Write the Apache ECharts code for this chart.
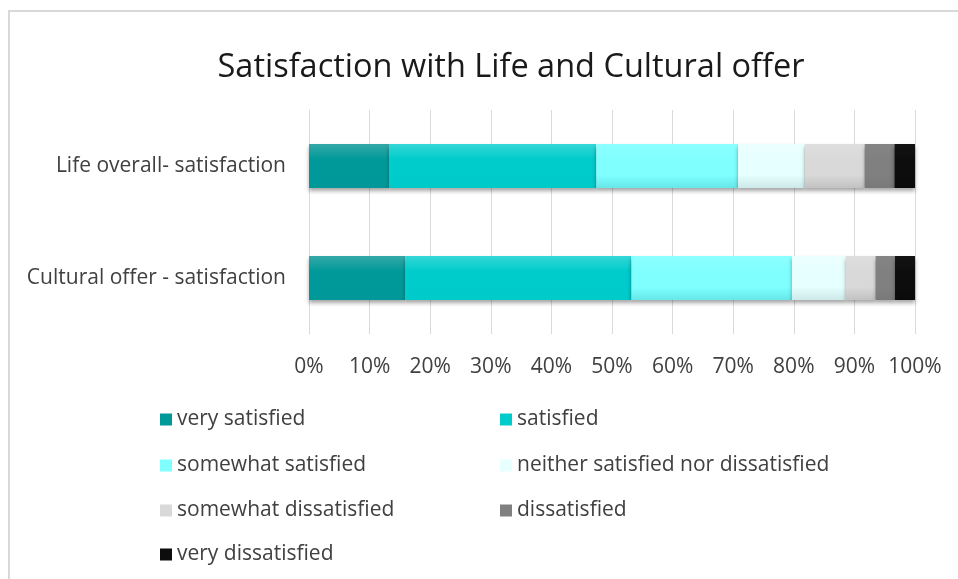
<!DOCTYPE html>
<html>
<head>
<meta charset="utf-8">
<script src="https://cdn.jsdelivr.net/npm/echarts@6/dist/echarts.min.js"></script>
<style>
  html, body { margin: 0; padding: 0; background: #fff; }
  #chart { width: 958px; height: 579px; }
</style>
</head>
<body>
<div id="chart"></div>
<script>
// Survey questions (bottom to top on the category axis)
const categories = ['Cultural offer - satisfaction', 'Life overall- satisfaction'];

// Answer levels and their share of responses (%), same order as categories
const levels = [
  'very satisfied',
  'satisfied',
  'somewhat satisfied',
  'neither satisfied nor dissatisfied',
  'somewhat dissatisfied',
  'dissatisfied',
  'very dissatisfied'
];
const verySatisfied        = [15.9, 13.2];
const satisfied            = [37.3, 34.2];
const somewhatSatisfied    = [26.5, 23.4];
const neither              = [8.9, 11.0];
const somewhatDissatisfied = [4.9, 9.9];
const dissatisfied         = [3.2, 4.9];
const veryDissatisfied     = [3.3, 3.4];

const tickLabels = ['0%', '10%', '20%', '30%', '40%', '50%', '60%', '70%', '80%', '90%', '100%'];

const seriesValues = [verySatisfied, satisfied, somewhatSatisfied, neither,
  somewhatDissatisfied, dissatisfied, veryDissatisfied];

// [top, bottom] shades per level for the soft vertical gradient
const shades = [
  ['#35a8a8', '#009898'],
  ['#35d6d6', '#00caca'],
  ['#8cffff', '#66e8e8'],
  ['#ecffff', '#cde9e9'],
  ['#dedede', '#c2c2c2'],
  ['#858585', '#7a7a7a'],
  ['#141414', '#0a0a0a']
];
const flat = ['#009999', '#00cccc', '#80ffff', '#e6ffff', '#d9d9d9', '#808080', '#0d0d0d'];

const FONT = '"Open Sans"';
const chart = echarts.init(document.getElementById('chart'));

const series = levels.map((name, i) => ({
  name: name,
  type: 'bar',
  stack: 'total',
  barWidth: 44,
  data: seriesValues[i],
  itemStyle: {
    color: {
      type: 'linear', x: 0, y: 0, x2: 0, y2: 1,
      colorStops: [
        { offset: 0, color: shades[i][0] },
        { offset: 0.35, color: flat[i] },
        { offset: 0.7, color: flat[i] },
        { offset: 1, color: shades[i][1] }
      ]
    },
    shadowColor: 'rgba(0,0,0,0.35)',
    shadowBlur: 4,
    shadowOffsetY: 3
  },
  emphasis: { disabled: true }
}));

// One legend block per level, laid out in two columns
const colX = [155, 495];
const rowY = [404, 450, 495, 539];
const legends = levels.map((name, i) => ({
  data: [{ name: name, itemStyle: { color: flat[i] } }],
  left: colX[i % 2],
  top: rowY[Math.floor(i / 2)],
  icon: 'rect',
  itemWidth: 12,
  itemHeight: 12,
  itemGap: 6,
  textStyle: { fontFamily: FONT, fontSize: 21, color: '#404040' },
  selectedMode: false
}));

chart.setOption({
  animation: false,
  title: {
    text: 'Satisfaction with Life and Cultural offer',
    left: 506,
    top: 46,
    textAlign: 'center',
    textStyle: { fontFamily: FONT, fontSize: 32.5, fontWeight: 'normal', color: '#1a1a1a' }
  },
  graphic: [{
    type: 'rect',
    shape: { x: 9, y: 11, width: 1200, height: 1000 },
    style: { fill: 'none', stroke: '#d9d9d9', lineWidth: 2 },
    silent: true
  }],
  legend: legends,
  grid: { left: 309, right: 43, top: 110, bottom: 245, containLabel: false },
  xAxis: {
    type: 'value',
    min: 0,
    max: 100,
    interval: 10,
    axisLine: { show: false },
    axisTick: { show: false },
    splitLine: { lineStyle: { color: '#d9d9d9', width: 1 } },
    axisLabel: {
      margin: 23,
      fontFamily: FONT,
      fontSize: 21,
      color: '#404040',
      formatter: (v) => tickLabels[Math.round(v / 10)]
    }
  },
  yAxis: {
    type: 'category',
    data: categories,
    axisLine: { show: true, lineStyle: { color: '#d9d9d9', width: 1 } },
    axisTick: { show: false },
    axisLabel: {
      margin: 23,
      padding: [4, 0, 0, 0],
      fontFamily: FONT,
      fontSize: 21,
      color: '#404040'
    }
  },
  series: series
});
</script>
</body>
</html>
